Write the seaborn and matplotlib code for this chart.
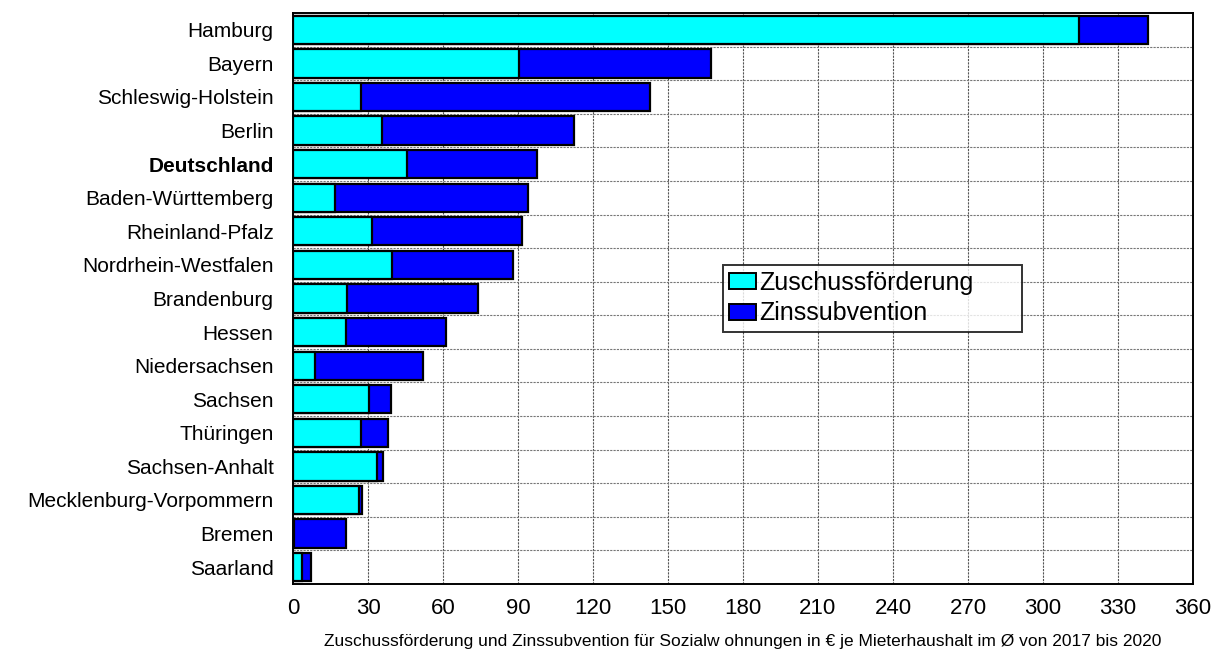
import matplotlib
matplotlib.use("Agg")
import matplotlib.pyplot as plt
import seaborn as sns
import pandas as pd
from matplotlib.patches import Patch

laender = ["Hamburg", "Bayern", "Schleswig-Holstein", "Berlin", "Deutschland",
           "Baden-Württemberg", "Rheinland-Pfalz", "Nordrhein-Westfalen",
           "Brandenburg", "Hessen", "Niedersachsen", "Sachsen", "Thüringen",
           "Sachsen-Anhalt", "Mecklenburg-Vorpommern", "Bremen", "Saarland"]
zuschuss = [314.5, 90.5, 27.2, 35.6, 45.6, 16.9, 31.5, 39.6, 21.6, 21.2,
            8.7, 30.3, 27.0, 33.6, 26.4, 0.3, 3.5]
zins = [27.5, 76.7, 115.8, 76.8, 52.0, 77.1, 60.0, 48.4, 52.3, 40.0,
        43.3, 9.0, 11.0, 2.4, 1.3, 20.9, 3.7]
xticks = list(range(0, 361, 30))

sns.set_theme(style="white")
plt.rcParams["font.family"] = ["Liberation Sans", "DejaVu Sans"]
plt.rcParams["text.color"] = "black"
plt.rcParams["xtick.color"] = "black"
plt.rcParams["ytick.color"] = "black"
plt.rcParams["axes.labelcolor"] = "black"

df = pd.DataFrame({"Land": laender, "Zuschuss": zuschuss, "Zins": zins})
df["Gesamt"] = df["Zuschuss"] + df["Zins"]

fig = plt.figure(figsize=(12.21, 6.51), dpi=100)
ax = fig.add_axes([0.24, 0.103, 0.737, 0.877])

sns.barplot(data=df, y="Land", x="Gesamt", color="#0000FF", saturation=1,
            edgecolor="black", linewidth=1.6, width=0.84, ax=ax, orient="h")
sns.barplot(data=df, y="Land", x="Zuschuss", color="#00FFFF", saturation=1,
            edgecolor="black", linewidth=1.6, width=0.84, ax=ax, orient="h")

ax.set_xlim(0, 360)
ax.set_ylim(len(laender) - 0.5, -0.5)
ax.set_xticks(xticks)
ax.set_xticklabels([str(t) for t in xticks], fontsize=16)
ax.set_yticks(range(len(laender)))
ax.set_yticklabels(laender, fontsize=15)
for lbl in ax.get_yticklabels():
    if lbl.get_text() == "Deutschland":
        lbl.set_fontweight("bold")
ax.tick_params(axis="y", pad=14, length=0)
ax.tick_params(axis="x", pad=10, length=0)

# grid: dashed lines at every tick and between rows
for t in xticks[1:-1]:
    ax.axvline(t, color="#555555", lw=0.8, ls=(0, (2, 1)), zorder=0)
for k in range(len(laender) - 1):
    ax.axhline(k + 0.5, color="#777777", lw=0.8, ls=(0, (2, 1)), zorder=0)
ax.set_axisbelow(True)

for s in ax.spines.values():
    s.set_visible(True)
    s.set_color("black")
    s.set_linewidth(1.4)

ax.set_ylabel("")
ax.set_xlabel("Zuschussförderung und Zinssubvention für Sozialw ohnungen in € je Mieterhaushalt im Ø von 2017 bis 2020",
              fontsize=12.5, labelpad=11)

handles = [Patch(facecolor="#00FFFF", edgecolor="black", lw=1.4, label="Zuschussförderung"),
           Patch(facecolor="#0000FF", edgecolor="black", lw=1.4, label="Zinssubvention")]
leg = ax.legend(handles=handles, loc="upper left",
                bbox_to_anchor=(0.478, 0.5587, 0.332, 0.0), mode="expand",
                fontsize=18, frameon=True, fancybox=False, handlelength=1.05,
                handleheight=0.6, handletextpad=0.15, borderpad=0.25,
                labelspacing=0.25, borderaxespad=0)
leg.get_frame().set_edgecolor("black")
leg.get_frame().set_linewidth(1.4)

fig.savefig("out.png", dpi=100, facecolor="white")
